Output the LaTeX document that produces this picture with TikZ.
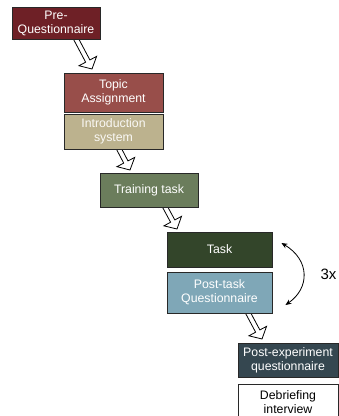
\documentclass[tikz,border=0pt]{standalone}
\usepackage{fontspec}
\setmainfont{Liberation Sans}
\usetikzlibrary{calc,arrows.meta}
\definecolor{cPre}{RGB}{110,32,38}
\definecolor{cTopic}{RGB}{152,78,74}
\definecolor{cIntro}{RGB}{188,178,142}
\definecolor{cTrain}{RGB}{107,125,92}
\definecolor{cTask}{RGB}{51,69,42}
\definecolor{cPost}{RGB}{127,167,183}
\definecolor{cExp}{RGB}{53,71,80}
\definecolor{cBorder}{RGB}{40,40,40}
\tikzset{
  stagebox/.style={draw=cBorder, line width=0.9pt, inner sep=0pt, align=center,
    text=white, font=\fontsize{12.3}{14}\selectfont},
  hollow/.style={draw=black, line width=0.8pt, fill=white, line join=miter},
  loop/.style={draw=black, line width=0.8pt, {Stealth[length=6pt,width=5pt]}-{Stealth[length=6pt,width=5pt]}}
}
\newcommand\barrow[2]{%
  \coordinate (bc) at ($(#2)!9pt!(#1)$);
  \draw[hollow] ($(#1)!2.4pt!90:(#2)$) -- ($(bc)!2.4pt!90:(#2)$) -- ($(bc)!10pt!90:(#2)$)
    -- (#2) -- ($(bc)!10pt!-90:(#2)$) -- ($(bc)!2.4pt!-90:(#2)$) -- ($(#1)!2.4pt!-90:(#2)$) -- cycle;}
\begin{document}
\begin{tikzpicture}[x=1pt,y=-1pt]
\useasboundingbox (0,0) rectangle (339,416);
\clip (0,0) rectangle (339,416);
\fill[white] (0,0) rectangle (339,416);
% arrow coordinates
\coordinate (a1s) at (75,37);   \coordinate (a1e) at (92,69);
\coordinate (a2s) at (118,147); \coordinate (a2e) at (130,170);
\coordinate (a3s) at (164,205); \coordinate (a3e) at (177,229);
\coordinate (a4s) at (247,311); \coordinate (a4e) at (262,339);
\barrow{a1s}{a1e}
\barrow{a2s}{a2e}
\barrow{a3s}{a3e}
\barrow{a4s}{a4e}
% boxes
\node[stagebox, fill=cPre, minimum width=88, minimum height=32] (p1) at (56,23) {Pre-\\Questionnaire};
\node[stagebox, fill=cTopic, minimum width=99, minimum height=39] (p2) at (113.5,92.5) {Topic\\Assignment};
\node[stagebox, fill=cIntro, text=white!92!cIntro, minimum width=99, minimum height=35] (p3) at (113.5,131.5) {Introduction\\system};
\node[stagebox, fill=cTrain, minimum width=98, minimum height=34] (p4) at (149,190) {Training task};
\node[stagebox, fill=cTask, minimum width=105, minimum height=35] (p5) at (219.5,249.5) {Task};
\node[stagebox, fill=cPost, minimum width=105, minimum height=41] (p6) at (219.5,292.5) {Post-task\\Questionnaire};
\node[stagebox, fill=cExp, minimum width=100, minimum height=34] (p7) at (288,360) {Post-experiment\\questionnaire};
\node[stagebox, fill=white, text=black, minimum width=100, minimum height=36] (p8) at (288,402) {Debriefing\\interview};
% repeat loop
\coordinate (l1) at ($(p5.east)+(9,-6.5)$);
\coordinate (l2) at ($(p6.east)+(13,12.5)$);
\draw[loop] (l1) .. controls (310,260) and (310,288) .. (l2);
\node[font=\fontsize{15}{17}\selectfont, inner sep=0pt] (rep) at (328.5,274) {3x};
\end{tikzpicture}
\end{document}
